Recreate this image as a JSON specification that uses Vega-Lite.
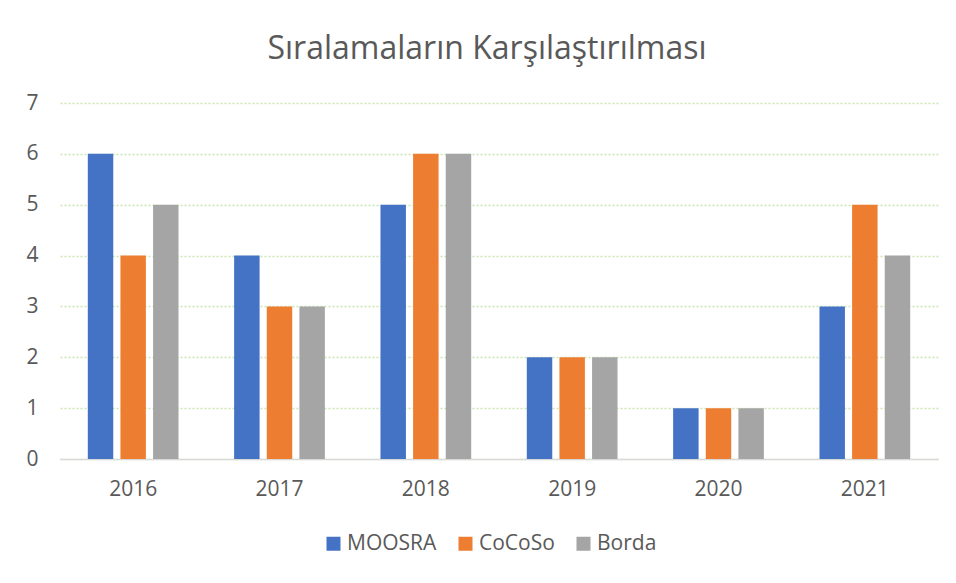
{
  "$schema": "https://vega.github.io/schema/vega-lite/v6.json",
  "width": 878,
  "height": 356,
  "autosize": {"type": "none"},
  "padding": {"left": 60, "top": 103, "right": 18, "bottom": 124},
  "background": "white",
  "title": {
    "text": "Sıralamaların Karşılaştırılması",
    "fontSize": 32,
    "font": "Open Sans",
    "fontWeight": "normal",
    "color": "#595959",
    "anchor": "middle",
    "dx": -12,
    "offset": 26
  },
  "data": {
    "values": [
      {"year": "2016", "method": "MOOSRA", "rank": 6},
      {"year": "2016", "method": "CoCoSo", "rank": 4},
      {"year": "2016", "method": "Borda", "rank": 5},
      {"year": "2017", "method": "MOOSRA", "rank": 4},
      {"year": "2017", "method": "CoCoSo", "rank": 3},
      {"year": "2017", "method": "Borda", "rank": 3},
      {"year": "2018", "method": "MOOSRA", "rank": 5},
      {"year": "2018", "method": "CoCoSo", "rank": 6},
      {"year": "2018", "method": "Borda", "rank": 6},
      {"year": "2019", "method": "MOOSRA", "rank": 2},
      {"year": "2019", "method": "CoCoSo", "rank": 2},
      {"year": "2019", "method": "Borda", "rank": 2},
      {"year": "2020", "method": "MOOSRA", "rank": 1},
      {"year": "2020", "method": "CoCoSo", "rank": 1},
      {"year": "2020", "method": "Borda", "rank": 1},
      {"year": "2021", "method": "MOOSRA", "rank": 3},
      {"year": "2021", "method": "CoCoSo", "rank": 5},
      {"year": "2021", "method": "Borda", "rank": 4}
    ]
  },
  "mark": {"type": "bar"},
  "encoding": {
    "x": {
      "field": "year",
      "type": "nominal",
      "scale": {"paddingInner": 0.38, "paddingOuter": 0.19},
      "axis": {
        "title": null,
        "labelAngle": 0,
        "labelFontSize": 21,
        "labelFont": "Open Sans",
        "labelColor": "#595959",
        "labelPadding": 19,
        "ticks": false,
        "domainColor": "#d9d9d9",
        "domainWidth": 1.5,
        "grid": false
      }
    },
    "xOffset": {
      "field": "method",
      "type": "nominal",
      "sort": ["MOOSRA", "CoCoSo", "Borda"],
      "scale": {"paddingInner": 0.22, "paddingOuter": 0}
    },
    "y": {
      "field": "rank",
      "type": "quantitative",
      "scale": {"domain": [0, 7], "nice": false},
      "axis": {
        "title": null,
        "values": [0, 1, 2, 3, 4, 5, 6, 7],
        "labelOverlap": false,
        "labelFontSize": 21,
        "labelFont": "Open Sans",
        "labelColor": "#595959",
        "labelPadding": 22,
        "ticks": false,
        "domain": false,
        "grid": true,
        "gridColor": "#c9e6b3",
        "gridDash": [2, 2],
        "gridWidth": 1.5
      }
    },
    "color": {
      "field": "method",
      "type": "nominal",
      "sort": ["MOOSRA", "CoCoSo", "Borda"],
      "scale": {
        "domain": ["MOOSRA", "CoCoSo", "Borda"],
        "range": ["#4472C4", "#ED7D31", "#A5A5A5"]
      },
      "legend": {
        "title": null,
        "orient": "none",
        "direction": "horizontal",
        "legendX": 263,
        "legendY": 430,
        "symbolType": "square",
        "symbolSize": 196,
        "symbolStrokeWidth": 0,
        "labelFontSize": 21,
        "labelFont": "Open Sans",
        "labelColor": "#595959",
        "columnPadding": 18,
        "labelOffset": 3
      }
    }
  },
  "config": {
    "view": {"stroke": null}
  }
}
